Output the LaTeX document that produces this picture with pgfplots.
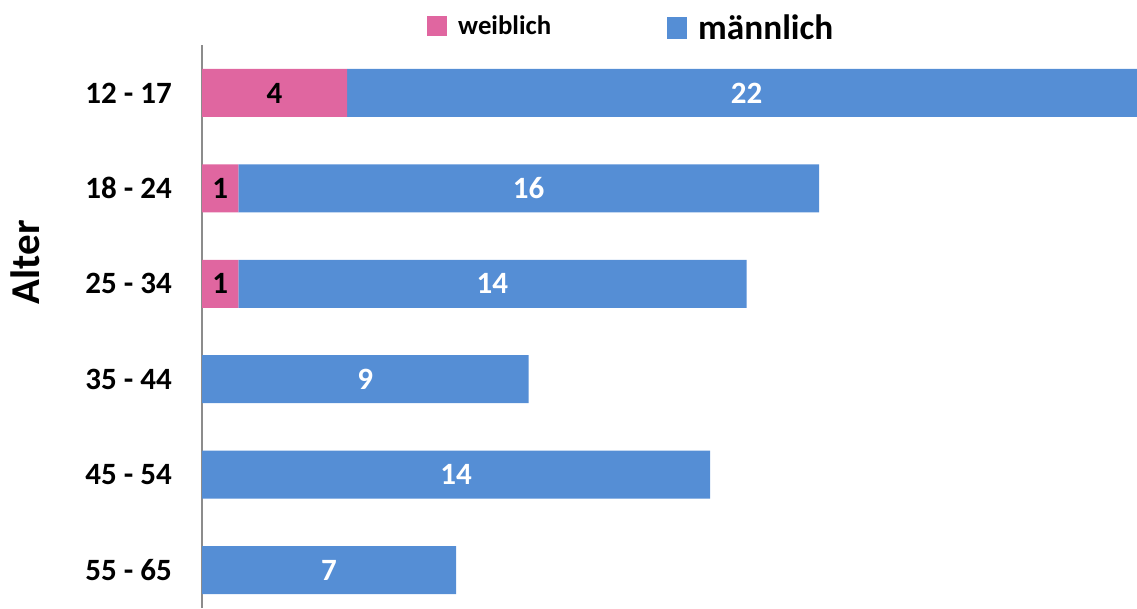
\documentclass[border=0pt]{standalone}
\usepackage{pgfplots}
\pgfplotsset{compat=1.18}
\usepackage{pgfplotstable}
\usepackage{fontspec}
\setmainfont{Carlito}
\definecolor{weibl}{HTML}{E066A0}
\definecolor{maennl}{HTML}{558ED5}
\definecolor{achse}{HTML}{8C8C8C}

% pos: 5 = oberste Zeile
\pgfplotstableread{
pos w m wl ml
5 4 22 4 22
4 1 16 1 16
3 1 14 1 14
2 0 9 {} 9
1 0 14 {} 14
0 0 7 {} 7
}\altersdaten

\begin{document}
\begin{tikzpicture}
\path[use as bounding box] (0pt,0pt) rectangle (1137pt,608pt);
\begin{axis}[
  at={(202pt,0pt)}, anchor=south west,
  scale only axis, width=951.06pt, height=563pt,
  xbar stacked, bar width=48pt,
  xmin=0, xmax=26.2,
  ymin=-0.398, ymax=5.503,
  axis x line=none,
  axis y line*=left,
  y axis line style={draw=achse, line width=1.5pt},
  ytick={0,...,5},
  yticklabels={55 - 65, 45 - 54, 35 - 44, 25 - 34, 18 - 24, 12 - 17},
  major tick length=0pt,
  yticklabel style={font=\fontsize{31}{37}\selectfont\bfseries, inner sep=0pt, xshift=-30pt},
  ylabel={Alter},
  every axis y label/.style={at={(axis description cs:-0.1856,0.614)}, rotate=90, anchor=center,
    font=\fontsize{41}{49}\selectfont\bfseries},
  legend style={draw=none, fill=none, at={(0.2366,1.0302)}, anchor=west,
    inner sep=0pt, nodes={inner sep=0pt},
    /tikz/every odd column/.append style={column sep=11pt},
    /tikz/every even column/.append style={column sep=116pt}},
  legend columns=-1,
  legend cell align=left,
  nodes near coords style={anchor=center, inner sep=0pt, font=\fontsize{31}{37}\selectfont\bfseries},
]
% weiblich
\addplot[fill=weibl, draw=none,
  point meta=explicit symbolic, nodes near coords,
  every node near coord/.append style={text=black},
  legend image code/.code={\fill[weibl] (0pt,-8pt) rectangle (20pt,12pt);}
] table[x=w, y=pos, meta=wl] {\altersdaten};
\addlegendentry{\raisebox{4pt}{\fontsize{26.8}{32}\selectfont\bfseries weiblich}}
% männlich
\addplot[fill=maennl, draw=none,
  point meta=explicit symbolic, nodes near coords,
  every node near coord/.append style={text=white},
  legend image code/.code={\fill[maennl] (0pt,-11pt) rectangle (20pt,11pt);}
] table[x=m, y=pos, meta=ml] {\altersdaten};
\addlegendentry{\fontsize{35.3}{42}\selectfont\bfseries männlich}
\end{axis}
\end{tikzpicture}
\end{document}
